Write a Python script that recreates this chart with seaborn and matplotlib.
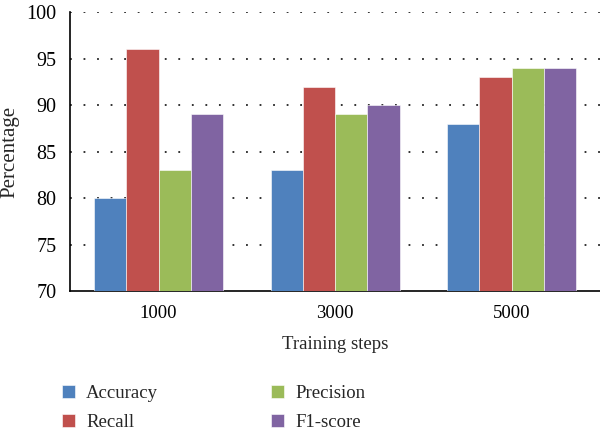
import pandas as pd
import seaborn as sns
import matplotlib.pyplot as plt

# values
steps = ["1000", "3000", "5000"]
metrics = ["Accuracy", "Recall", "Precision", "F1-score"]
accuracy = [80, 83, 88]
recall = [96, 92, 93]
precision = [83, 89, 94]
f1_score = [89, 90, 94]
colors = ["#4F81BD", "#C0504D", "#9BBB59", "#8064A2"]

# long form table for seaborn
rows = []
for name, vals in zip(metrics, [accuracy, recall, precision, f1_score]):
    for s, v in zip(steps, vals):
        rows.append({"Training steps": s, "Metric": name, "Percentage": v})
df = pd.DataFrame(rows)

sns.set_style("white")
plt.rcParams["font.family"] = ["Liberation Serif", "DejaVu Serif"]

fig = plt.figure(figsize=(6, 4.34), dpi=100)
ax = fig.add_axes([0.117, 0.329, 0.883, 0.643])

sns.barplot(data=df, x="Training steps", y="Percentage", hue="Metric",
            hue_order=metrics, palette=colors, saturation=1, width=0.73, gap=0,
            edgecolor="white", linewidth=0.4, ax=ax, zorder=3)

ax.set_ylim(70, 100)
ax.set_xlim(-0.5, 2.5)
ax.set_yticks(range(70, 101, 5))
for y in range(75, 101, 5):
    ax.axhline(y, color="#222222", lw=1.3, ls=(0, (1, 6.5)), zorder=1)

for side in ["top", "right"]:
    ax.spines[side].set_visible(False)
for side in ["left", "bottom"]:
    ax.spines[side].set_color("black")
    ax.spines[side].set_linewidth(1.2)

ax.tick_params(axis="both", length=0, colors="black")
ax.tick_params(axis="y", pad=10, labelsize=14.5)
ax.tick_params(axis="x", pad=10, labelsize=13.5)
ax.set_ylabel("Percentage", fontsize=15, labelpad=5)
ax.set_xlabel("Training steps", fontsize=13.5, labelpad=10)

handles, labels = ax.get_legend_handles_labels()
ax.legend(handles, labels, ncol=2, loc="upper left",
          bbox_to_anchor=(0.075, 0.152), bbox_transform=fig.transFigure,
          frameon=False, fontsize=13.5, handlelength=0.7, handleheight=0.7,
          handletextpad=0.6, columnspacing=6.0, labelspacing=0.65)

fig.savefig("out.png", dpi=100)
